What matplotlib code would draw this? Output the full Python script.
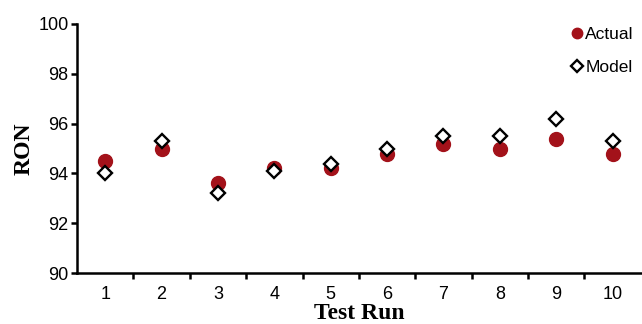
import numpy as np
import matplotlib.pyplot as plt
from matplotlib.ticker import FixedLocator

# === Data ===
runs = [1, 2, 3, 4, 5, 6, 7, 8, 9, 10]
actual = [94.5, 95.0, 93.6, 94.2, 94.2, 94.8, 95.2, 95.0, 95.4, 94.8]
model = [94.0, 95.3, 93.2, 94.1, 94.4, 95.0, 95.5, 95.5, 96.2, 95.3]

fig = plt.figure(figsize=(6.42, 3.24), dpi=100)
ax = fig.add_axes([0.12, 0.157, 0.878, 0.769])

ax.plot(runs, actual, 'o', color='#a3121a', markersize=10, linestyle='none', label='Actual')
ax.plot(runs, model, 'D', markerfacecolor='white', markeredgecolor='black',
        markeredgewidth=1.7, markersize=7.5, linestyle='none', label='Model')

ax.set_xlim(0.5, 10.5)
ax.set_ylim(90, 100)
ax.set_yticks([90, 92, 94, 96, 98, 100])
ax.set_xticks(runs)
ax.xaxis.set_minor_locator(FixedLocator(np.arange(1.5, 10.5, 1)))
ax.tick_params(axis='x', which='major', length=0, pad=9)
ax.tick_params(axis='x', which='minor', length=4, width=1.8, direction='out')
ax.tick_params(axis='y', length=4, width=1.8, direction='out', pad=2)
for lab in ax.get_xticklabels() + ax.get_yticklabels():
    lab.set_fontfamily('Liberation Sans')
    lab.set_fontsize(13)

for side in ['top', 'right']:
    ax.spines[side].set_visible(False)
for side in ['left', 'bottom']:
    ax.spines[side].set_linewidth(1.8)

ax.set_xlabel('Test Run', fontfamily='Liberation Serif', fontweight='bold', fontsize=17, labelpad=0)
ax.set_ylabel('RON', fontfamily='Liberation Serif', fontweight='bold', fontsize=17, labelpad=3)

leg = ax.legend(loc='upper right', frameon=False, handletextpad=0.0, handlelength=0.9,
                labelspacing=1.0, borderaxespad=0.0, markerscale=0.75,
                bbox_to_anchor=(1.0, 1.015),
                prop={'family': 'Liberation Sans', 'size': 12.5})

fig.savefig('out.png', dpi=100)
